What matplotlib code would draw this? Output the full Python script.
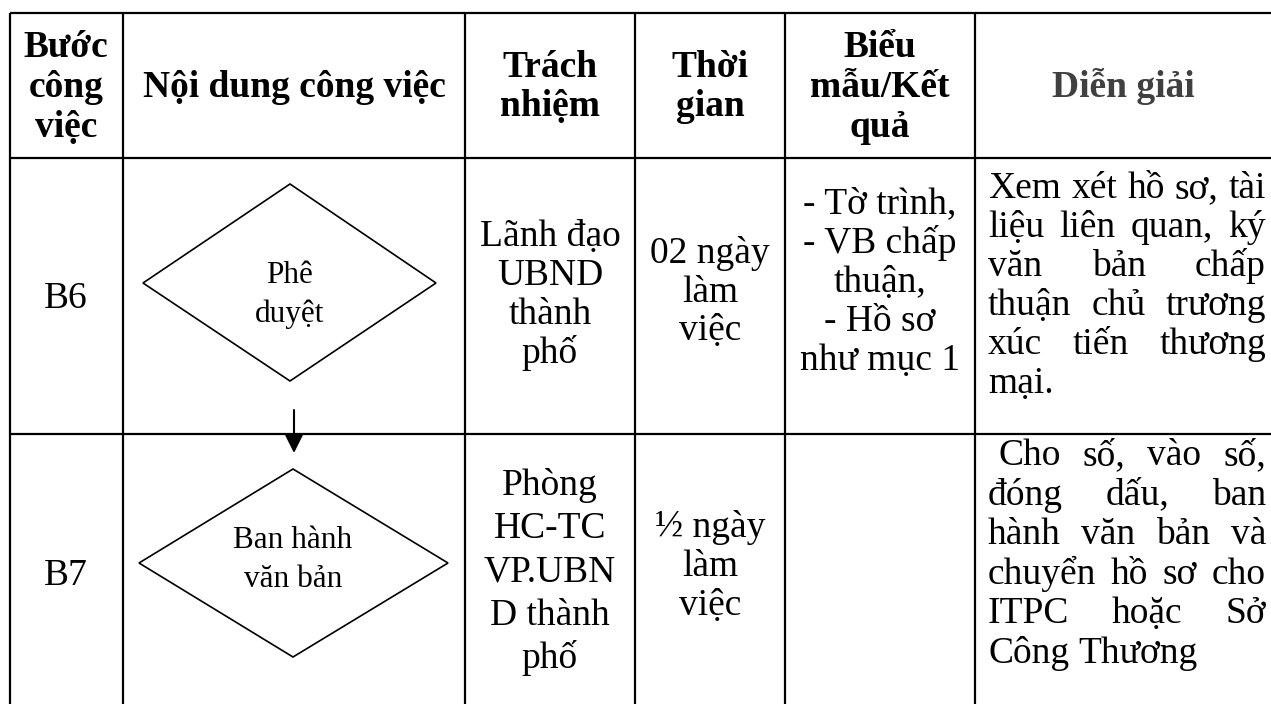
import matplotlib.pyplot as plt
from matplotlib.patches import Polygon

plt.rcParams['font.family'] = ['Liberation Serif', 'DejaVu Serif']

# Table content
header_cells = [
    ["Bước", "công", "việc"],
    ["Nội dung công việc"],
    ["Trách", "nhiệm"],
    ["Thời", "gian"],
    ["Biểu", "mẫu/Kết", "quả"],
    ["Diễn giải"],
]
step_labels = ["B6", "B7"]
step_names = [["Phê", "duyệt"], ["Ban hành", "văn bản"]]
responsible = [
    ["Lãnh đạo", "UBND", "thành", "phố"],
    ["Phòng", "HC-TC", "VP.UBN", "D thành", "phố"],
]
durations = [
    ["02 ngày", "làm", "việc"],
    ["½ ngày", "làm", "việc"],
]
forms = [
    ["- Tờ trình,", "- VB chấp", "thuận,", "- Hồ sơ", "như mục 1"],
    [],
]
notes = [
    ["Xem xét hồ sơ, tài", "liệu liên quan, ký", "văn bản chấp",
     "thuận chủ trương", "xúc tiến thương", "mại."],
    ["Cho số, vào số,", "đóng dấu, ban", "hành văn bản và",
     "chuyển hồ sơ cho", "ITPC hoặc Sở", "Công Thương"],
]

# Layout (pixels)
W, H = 1271, 704
col_x = [9.5, 123, 465, 635, 785, 975]
row_y = [13, 158, 434]
col_mid = [66, 294, 550, 710, 880, 1123]
BODY = 27
HEAD = 27
SMALL = 22.5

fig = plt.figure(figsize=(W / 100, H / 100), dpi=100)
ax = fig.add_axes([0, 0, 1, 1])
ax.set_xlim(0, W)
ax.set_ylim(H, 0)
ax.axis('off')

# grid
for y in row_y:
    ax.plot([col_x[0], W], [y, y], color='black', lw=1.6, solid_capstyle='butt')
for x in col_x:
    ax.plot([x, x], [row_y[0], H], color='black', lw=1.6, solid_capstyle='butt')


def stack(x, baselines, lines, size, **kw):
    for b, s in zip(baselines, lines):
        ax.text(x, b, s, ha='center', va='baseline', fontsize=size, **kw)


# header
head_base = {1: [97], 2: [77, 116], 3: [57, 97, 137]}
for i, cell in enumerate(header_cells):
    color = '#404040' if i == 5 else 'black'
    stack(col_mid[i], head_base[len(cell)], cell, HEAD, fontweight='bold', color=color)

# step labels
for lab, b in zip(step_labels, [308, 585]):
    ax.text(col_mid[0], b, lab, ha='center', va='baseline', fontsize=BODY)

# diamonds
diamonds = [
    [(290, 184), (436, 283), (290, 381), (143, 283)],
    [(293, 469), (448, 563), (293, 657), (139, 563)],
]
for pts, name, b0 in zip(diamonds, step_names, [283, 548]):
    ax.add_patch(Polygon(pts, closed=True, fill=False, edgecolor='black', lw=1.2))
    stack(pts[0][0], [b0, b0 + 39], name, SMALL)

ax.annotate('', xy=(294, 453), xytext=(294, 410),
            arrowprops=dict(arrowstyle='-|>', color='black', lw=1.5,
                            mutation_scale=28, shrinkA=0, shrinkB=0))

# responsible / duration / forms
stack(col_mid[2], [246, 285, 324, 363], responsible[0], BODY)
stack(col_mid[2], [495, 538, 582, 625, 668], responsible[1], BODY)
stack(col_mid[3], [263, 302, 340], durations[0], BODY)
stack(col_mid[3], [537, 576, 615], durations[1], BODY)
stack(col_mid[4], [213, 253, 292, 331, 370], forms[0], BODY)

# justified notes
fig.canvas.draw()
renderer = fig.canvas.get_renderer()


def justify(lines, first_base, step, left, right, first_left):
    for k, line in enumerate(lines):
        b = first_base + k * step
        x0 = first_left if k == 0 else left
        words = line.split()
        objs = [ax.text(0, b, w, ha='left', va='baseline', fontsize=BODY) for w in words]
        widths = [o.get_window_extent(renderer).width for o in objs]
        last = k == len(lines) - 1
        if last or len(words) == 1:
            sp = renderer.points_to_pixels(BODY) * 0.25
        else:
            sp = (right - x0 - sum(widths)) / (len(words) - 1)
        x = x0
        for o, w in zip(objs, widths):
            o.set_x(x)
            x += w + sp


justify(notes[0], 198, 39, 988, 1266, 988)
justify(notes[1], 465, 39.6, 988, 1266, 998)

fig.savefig('out.png', dpi=100)
